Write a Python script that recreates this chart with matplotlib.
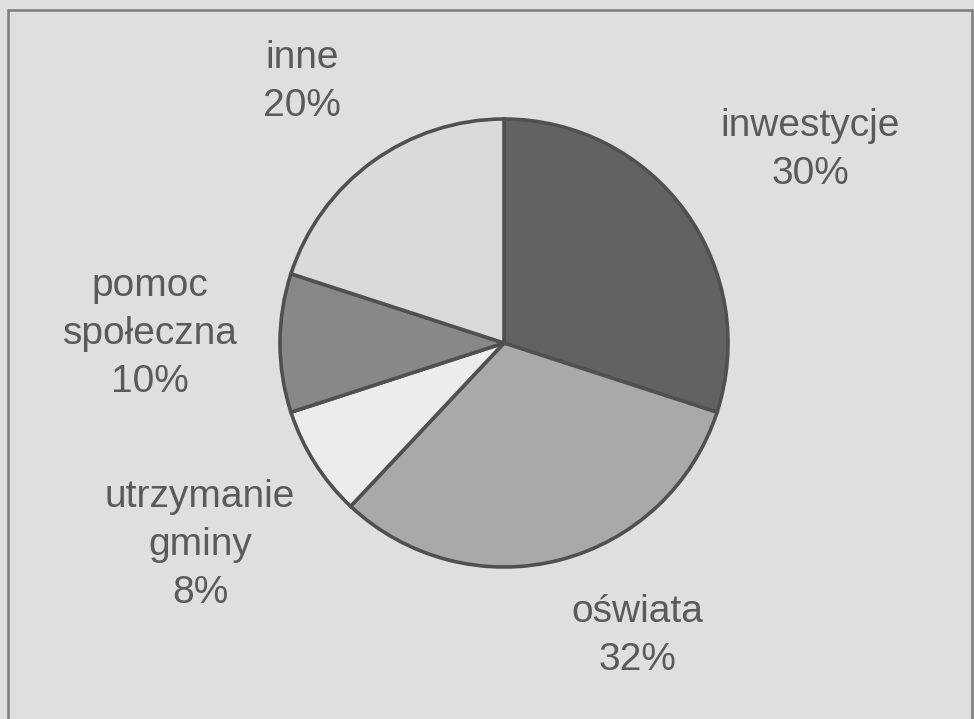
import matplotlib
matplotlib.use("Agg")
import matplotlib.pyplot as plt
from matplotlib.patches import Rectangle

labels = ["inwestycje", "oświata", "utrzymanie\ngminy", "pomoc\nspołeczna", "inne"]
values = [30, 32, 8, 10, 20]
colors = ["#626262", "#a9a9a9", "#ececec", "#888888", "#dadada"]
# label centre positions in pixels (x, y from top)
label_pos = [(810, 150), (637, 636), (200, 545), (150, 334), (302, 82)]

W, H = 974, 719
fig = plt.figure(figsize=(W / 100, H / 100), dpi=100)
fig.patch.set_facecolor("#dfdfdf")
ax = fig.add_axes([0, 0, 1, 1])
ax.set_facecolor("#dfdfdf")

def py(y):
    return H - y

ax.pie(values, colors=colors, startangle=90, counterclock=False,
       center=(504, py(343)), radius=224,
       wedgeprops=dict(edgecolor="#505050", linewidth=2.6))

for lab, v, (x, y) in zip(labels, values, label_pos):
    ax.text(x, py(y), f"{lab}\n{v}%", ha="center", va="center",
            fontsize=28, family="Liberation Sans", color="#5a5a5a",
            linespacing=1.42)

ax.add_patch(Rectangle((8, py(730)), 964, 720, fill=False,
                       edgecolor="#7a7a7a", linewidth=1.8))

ax.set_xlim(0, W)
ax.set_ylim(0, H)
ax.set_aspect("equal")
ax.axis("off")
fig.savefig("out.png", dpi=100, facecolor=fig.get_facecolor())
